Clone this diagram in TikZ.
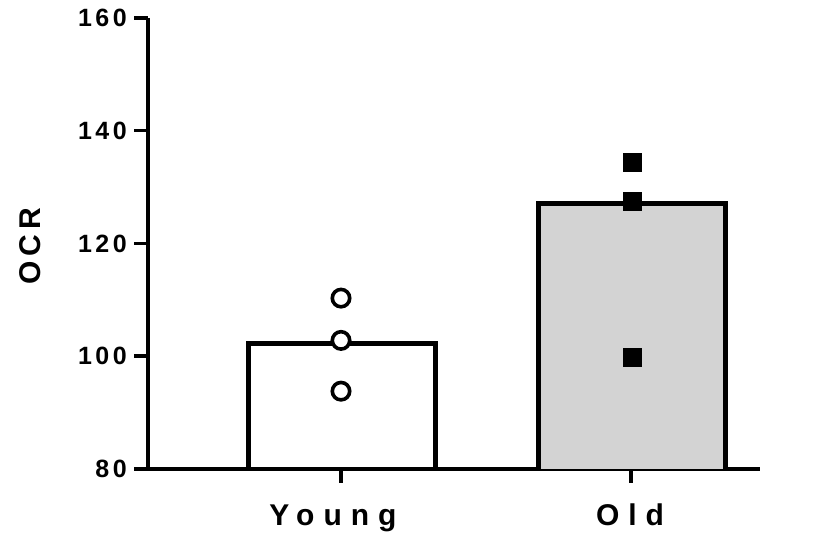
\documentclass[tikz,border=0pt]{standalone}
\usepackage{fontspec}
\setmainfont{Liberation Sans}
\newfontfamily\tickfont[LetterSpace=14]{Liberation Sans}
\newfontfamily\groupfont[LetterSpace=30]{Liberation Sans}
\newfontfamily\ocrfont[LetterSpace=18]{Liberation Sans}
\definecolor{oldgray}{RGB}{211,211,211}

\begin{document}
\begin{tikzpicture}[
    axisline/.style={line width=3.6pt},
    bar/.style={line width=5pt, line join=miter},
    ticklabel/.style={anchor=east, inner sep=0pt, font=\tickfont\bfseries\fontsize{25}{30}\selectfont},
    grouplabel/.style={anchor=base, inner sep=0pt, font=\groupfont\bfseries\fontsize{30}{36}\selectfont},
    youngdot/.style={circle, draw, fill=white, line width=3.6pt, minimum size=17.4pt, inner sep=0pt},
    olddot/.style={rectangle, fill=black, minimum size=19pt, inner sep=0pt}
]
\useasboundingbox (0,0) rectangle (831pt,536pt);
\begin{scope}[x=1pt, y=5.64pt, yshift=-384.2pt]
    \coordinate (origin) at (148,80);
    \coordinate (ytop) at (148,160);
    \coordinate (xend) at (760,80);

    % axes
    \draw [axisline] (ytop) -- (origin) -- (xend);
    \foreach \v in {80,100,...,160} {
        \draw [axisline] (134,\v) -- (148,\v);
        \node (tick\v) [ticklabel] at (127,\v) {\v};
    }
    \draw [axisline] (341,80) -- (341,77.5);
    \draw [axisline] (631,80) -- (631,77.5);

    % bars
    \draw [bar] (248,80) -- (248,102.3) -- (435,102.3) -- (435,80);
    \draw [bar, fill=oldgray] (538,80) -- (538,127) -- (725,127) -- (725,80);

    % points
    \node (y1) [youngdot] at (341,110.3) {};
    \node (y2) [youngdot] at (341,102.8) {};
    \node (y3) [youngdot] at (341,93.8) {};
    \node (o1) [olddot] at (632,134.3) {};
    \node (o2) [olddot] at (632,127.5) {};
    \node (o3) [olddot] at (632,99.7) {};

    \node (young) [grouplabel] at (333,70.07) {Young};
    \node (old) [grouplabel] at (630,70.07) {Old};
    \node (ocr) [rotate=90, inner sep=0pt, font=\ocrfont\bfseries\fontsize{30}{36}\selectfont] at (30,119.5) {OCR};
\end{scope}
\end{tikzpicture}
\end{document}
